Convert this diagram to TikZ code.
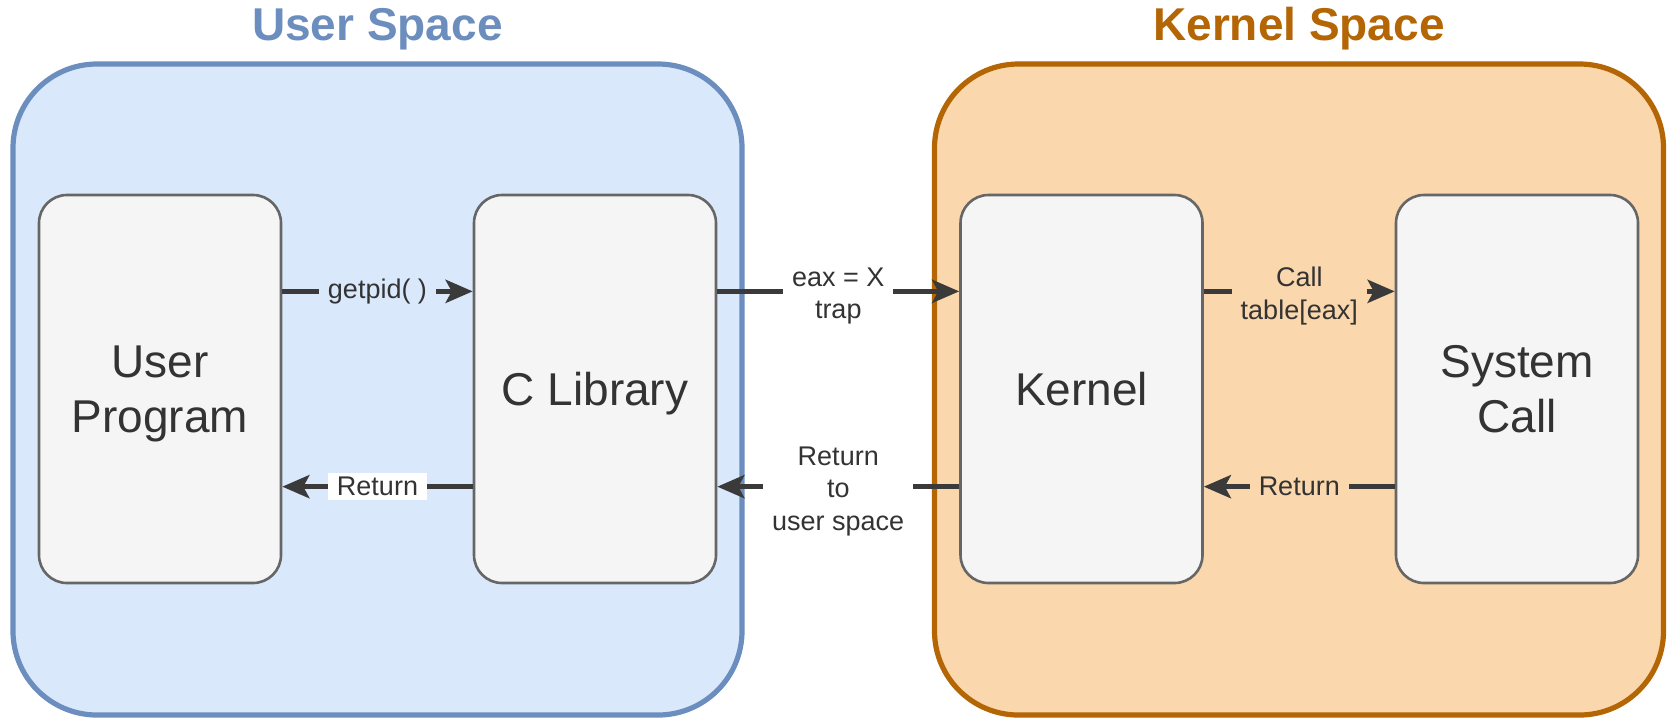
\documentclass[tikz,border=0pt]{standalone}
\usepackage{fontspec}
\setmainfont{Liberation Sans}
\usetikzlibrary{arrows.meta,calc}
\definecolor{bluefill}{HTML}{DAE8FC}
\definecolor{blueline}{HTML}{6C8EBF}
\definecolor{orangefill}{HTML}{FAD7AC}
\definecolor{orangeline}{HTML}{B46504}
\definecolor{boxfill}{HTML}{F5F5F5}
\definecolor{boxline}{HTML}{666666}
\definecolor{txt}{HTML}{333333}
\definecolor{arrowc}{HTML}{3A3A3A}
\begin{document}
\begin{tikzpicture}[x=0.5pt,y=-0.5pt,
  container/.style={draw, line width=2.6pt, rounded corners=42pt, minimum width=364.5pt, minimum height=325.5pt, inner sep=0pt},
  box/.style={draw=boxline, fill=boxfill, line width=1.3pt, rounded corners=14pt, minimum width=121pt, minimum height=194pt, align=center, font=\fontsize{23}{27.6}\selectfont, text=txt, text depth=0pt},
  title/.style={font=\fontsize{23}{27.6}\selectfont\bfseries, anchor=base},
  arr/.style={draw=arrowc, line width=2.5pt, -{Stealth[length=13.5pt,width=11.5pt,inset=3pt]}},
  lbl/.style={font=\fontsize{13.5}{16.2}\selectfont, text=txt, align=center, inner xsep=4.5pt, inner ysep=2pt},
  mlbl/.style={lbl, text depth=0pt, yshift=-1pt}
]
\fill[white] (0,0) rectangle (1669,720);
\useasboundingbox (0,0) rectangle (1669,720);
\node[container, draw=blueline, fill=bluefill] (us) at (377.5,389.5) {};
\node[container, draw=orangeline, fill=orangefill] (ks) at (1299,389.5) {};
\node[title, text=blueline] (ust) at (377.5,40) {User Space};
\node[title, text=orangeline] (kst) at (1299,40) {Kernel Space};
\node[box] (up) at (160,389) {User\\Program};
\node[box] (cl) at (595,389) {C Library};
\node[box] (k) at (1081.5,389) {Kernel};
\node[box] (sc) at (1517,389) {System\\Call};
% top arrows
\draw[arr] ($(up.north east)!.25!(up.south east)$) -- node[lbl, fill=bluefill]{getpid( )} ($(cl.north west)!.25!(cl.south west)$);
\draw[arr] ($(cl.north east)!.25!(cl.south east)$) -- node[mlbl, fill=white]{eax = X\\trap} ($(k.north west)!.25!(k.south west)$);
\draw[arr] ($(k.north east)!.25!(k.south east)$) -- node[mlbl, fill=orangefill]{Call\\table[eax]} ($(sc.north west)!.25!(sc.south west)$);
% bottom arrows
\draw[arr] ($(cl.north west)!.75!(cl.south west)$) -- node[lbl, fill=white]{Return} ($(up.north east)!.75!(up.south east)$);
\draw[arr] ($(k.north west)!.75!(k.south west)$) -- node[mlbl, fill=white]{Return\\to\\user space} ($(cl.north east)!.75!(cl.south east)$);
\draw[arr] ($(sc.north west)!.75!(sc.south west)$) -- node[lbl, fill=orangefill]{Return} ($(k.north east)!.75!(k.south east)$);
\end{tikzpicture}
\end{document}
